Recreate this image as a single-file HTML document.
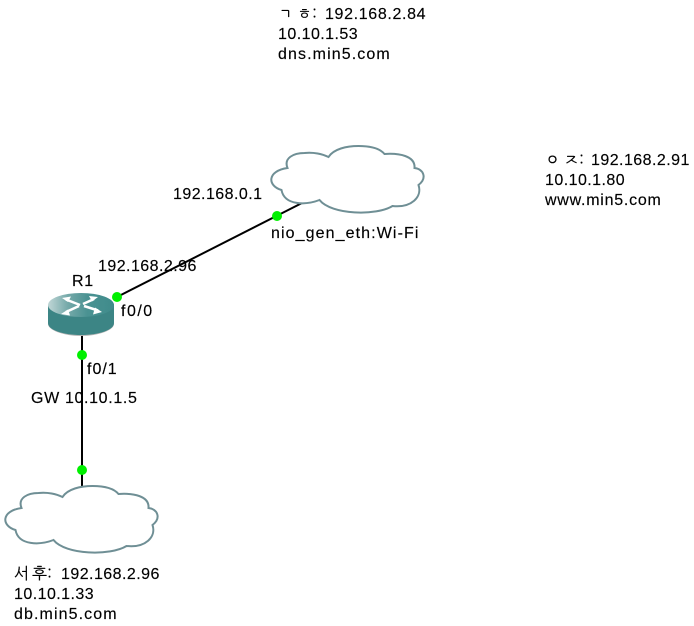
<!DOCTYPE html>
<html>
<head>
<meta charset="utf-8">
<style>
html,body{margin:0;padding:0;background:#fff;width:694px;height:626px;overflow:hidden}
svg{position:absolute;left:0;top:0}
text{font-family:"Liberation Sans",sans-serif;font-size:16px;letter-spacing:.65px;fill:#000;stroke:#000;stroke-width:.15px}
text.k{font-family:"NanumGothic","Noto Sans CJK KR",sans-serif;letter-spacing:0}
text.w{letter-spacing:1.1px}
text.n{letter-spacing:.45px}
</style>
</head>
<body>
<svg width="694" height="626" viewBox="0 0 694 626" xmlns="http://www.w3.org/2000/svg">
<defs>
<linearGradient id="top" x1="0" x2="1" y1="0" y2="0">
<stop offset="0" stop-color="#c0d6d6"/><stop offset=".3" stop-color="#75a9a9"/><stop offset=".6" stop-color="#4a9292"/><stop offset="1" stop-color="#3f8b8b"/>
</linearGradient>
<path id="cloud" d="M286 168C282 158 292 153 303 153C312 152 321 154 327 157C332 149 345 146 357 146C368 146 378 148 383 154C398 153 414 156 413 168C422 169 426 178 417 185C421 197 410 208 391 206C375 216 330 215 318 200C305 205 283 206 280 190C266 186 265 171 286 168Z" transform="translate(1.500 0)"/>
</defs>
<rect width="694" height="626" fill="#fff"/>
<line x1="117" y1="297" x2="302" y2="203" stroke="#000" stroke-width="2"/>
<line x1="82" y1="335" x2="82" y2="486" stroke="#000" stroke-width="2"/>
<g fill="#fff" stroke="#6f8f95" stroke-width="2">
<use href="#cloud"/>
<use href="#cloud" transform="translate(-266 340)"/>
</g>
<path d="M48 307V324C48 330 63 336 81 336S114 330 114 324V307Z" fill="#b5b5b5"/>
<path d="M48 305V323C48 330 63 335 81 335S114 330 114 323V305Z" fill="#3c8585"/>
<ellipse cx="81" cy="305" rx="33" ry="12" fill="url(#top)"/>
<g fill="#fff" stroke="#fff" stroke-width="2.500">
<line x1="80" y1="305" x2="66" y2="299.500"/>
<line x1="83" y1="304" x2="94" y2="299"/>
<line x1="79" y1="306" x2="66" y2="312"/>
<line x1="84" y1="306" x2="98" y2="310.500"/>
<path d="M62 298L71 296.500L68 302Z" stroke="none"/>
<path d="M98 297L89 296L92 301.500Z" stroke="none"/>
<path d="M61 314L70 315.500L68 309.500Z" stroke="none"/>
<path d="M102 312L93 314.500L95 307.500Z" stroke="none"/>
</g>
<g fill="#00f000">
<circle cx="277" cy="216" r="5"/>
<circle cx="117" cy="297" r="5"/>
<circle cx="82" cy="355" r="5"/>
<circle cx="82" cy="470" r="5"/>
</g>
<text class="k" x="278" y="19">ㄱ</text>
<text class="k" x="297" y="19">ㅎ:</text>
<text x="325" y="19">192.168.2.84</text>
<text class="n" x="278" y="39">10.10.1.53</text>
<text class="w" x="278" y="59">dns.min5.com</text>
<text class="k" x="545" y="165">ㅇ</text>
<text class="k" x="564" y="165">ㅈ:</text>
<text x="591" y="165" class="n">192.168.2.91</text>
<text class="n" x="545" y="185">10.10.1.80</text>
<text class="w" x="545" y="205" style="letter-spacing:.75px">www.min5.com</text>
<text class="n" x="173" y="199">192.168.0.1</text>
<text class="w" x="271" y="238">nio_gen_eth:Wi-Fi</text>
<text class="n" x="98" y="271">192.168.2.96</text>
<text x="72" y="286">R1</text>
<text x="121" y="316" style="letter-spacing:1.500px">f0/0</text>
<text x="87" y="374" style="letter-spacing:1px">f0/1</text>
<text x="31" y="403">GW 10.10.1.5</text>
<text class="k" x="14" y="579">서</text>
<text class="k" x="32" y="579">후:</text>
<text class="n" x="61" y="579">192.168.2.96</text>
<text class="n" x="14" y="599">10.10.1.33</text>
<text class="w" x="14" y="619">db.min5.com</text>
</svg>
</body>
</html>
